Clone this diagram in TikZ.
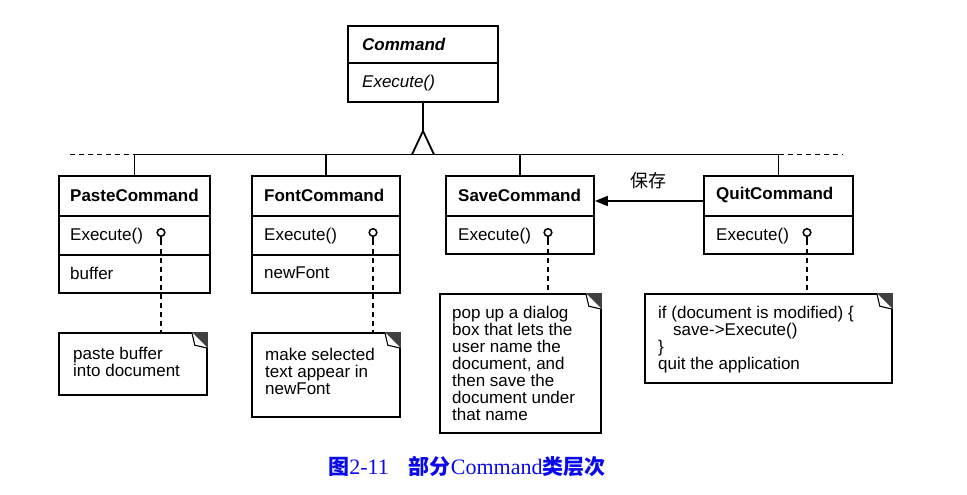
\documentclass[tikz,border=0pt]{standalone}
\usepackage{fontspec}
\setmainfont{Liberation Sans}
\newfontfamily\cjk{Noto Sans CJK SC}
\newfontfamily\capserif{Liberation Serif}
\usetikzlibrary{arrows.meta}
\definecolor{capblue}{RGB}{10,10,235}
\newcommand\dogear[1]{%
  \fill[black!75] ([xshift=-16pt]#1.north east) -- (#1.north east) -- ([yshift=-16pt]#1.north east) -- cycle;
  \draw[line width=1.1pt, fill=white, line join=round] ([xshift=-16pt]#1.north east) -- ([xshift=-13pt,yshift=-13pt]#1.north east) -- ([yshift=-16pt]#1.north east);
}
\newcommand\lolli[2]{%
  \coordinate (#1) at (#2,240);
  \draw[line width=1.5pt] (#2,236.5) -- (#1);
  \draw[line width=1.5pt, fill=white] (#2,232.5) circle[radius=3.8pt];
}
\begin{document}
\begin{tikzpicture}[x=1pt,y=-1pt,
  box/.style={draw, rectangle, inner sep=0, line width=1.8pt},
  ttl/.style={anchor=west, inner sep=0, font=\fontsize{17}{17}\selectfont\bfseries},
  lbl/.style={anchor=west, inner sep=0, font=\fontsize{17}{17}\selectfont},
  note/.style={draw, rectangle, inner sep=0, line width=1.6pt},
  notetext/.style={anchor=north west, inner sep=0, align=left, font=\fontsize{17}{17}\selectfont},
  conn/.style={dash pattern=on 5pt off 4pt, line width=1.6pt},
  solidline/.style={line width=1.8pt}
]
\useasboundingbox (0,0) rectangle (967,495);

% Command
\node[box, minimum width=150, minimum height=76] (cmd) at (423,64) {};
\draw[solidline] (cmd.west |- 0,63) -- (cmd.east |- 0,63);
\node[ttl, font=\fontsize{17}{17}\selectfont\bfseries\itshape] (cmdt) at (362,44) {Command};
\node[lbl, font=\fontsize{17}{17}\selectfont\itshape] (cmde) at (362,83) {Execute()};

% subclasses
\node[box, minimum width=151, minimum height=117] (paste) at (134.5,234.5) {};
\node[box, minimum width=148, minimum height=117] (font) at (326,234.5) {};
\node[box, minimum width=148, minimum height=78] (save) at (520,215) {};
\node[box, minimum width=149, minimum height=78] (quit) at (778.5,215) {};
\foreach \b in {paste,font,save,quit} {\draw[solidline] (\b.west |- 0,216) -- (\b.east |- 0,216);}
\foreach \b in {paste,font} {\draw[solidline] (\b.west |- 0,255) -- (\b.east |- 0,255);}

\node[ttl] (pt) at (70,195) {PasteCommand};
\node[lbl] (pe) at (70,236) {Execute()};
\node[lbl] (pb) at (70,273) {buffer};
\node[ttl] (ft) at (264,195) {FontCommand};
\node[lbl] (fe) at (264,236) {Execute()};
\node[lbl] (fb) at (264,273) {newFont};
\node[ttl] (st) at (458,195) {SaveCommand};
\node[lbl] (se) at (458,236) {Execute()};
\node[ttl] (qt) at (716,195) {QuitCommand};
\node[lbl] (qe) at (716,236) {Execute()};

% inheritance
\coordinate (hbar) at (0,154.5);
\coordinate (apex) at (423,131);
\draw[solidline] (cmd.south) -- (apex);
\draw[solidline, line join=miter] (412,154.5) -- (apex) -- (434,154.5);
\draw[solidline] (paste.north |- hbar) -- (quit.north |- hbar);
\foreach \b in {paste,font,save,quit} {\draw[solidline] (\b.north |- hbar) -- (\b.north);}
\draw[conn, line width=1.4pt] (70,154.5) -- (paste.north |- hbar);
\draw[conn, line width=1.4pt] (quit.north |- hbar) -- (843,154.5);

% association
\draw[solidline, -{Triangle[length=13pt,width=10pt]}] (quit.west |- 0,201) -- (save.east |- 0,201);
\node[font=\cjk\fontsize{18}{18}\selectfont] (lab) at (648,181) {保存};

% notes
\node[note, minimum width=148, minimum height=62] (pn) at (133,364) {};
\node[note, minimum width=148, minimum height=84] (fn) at (326,375) {};
\node[note, minimum width=161, minimum height=139] (sn) at (520.5,363.5) {};
\node[note, minimum width=247, minimum height=89] (qn) at (768.5,338.5) {};
\foreach \n in {pn,fn,sn,qn} {\dogear{\n}}

\node[notetext] (pnt) at (73,347) {paste buffer\\into document};
\node[notetext] (fnt) at (265,348) {make selected\\text appear in\\newFont};
\node[notetext] (snt) at (452,306) {pop up a dialog\\box that lets the\\user name the\\document, and\\then save the\\document under\\that name};
\node[notetext] (qnt) at (658,306) {if (document is modified) \{\\\hspace*{15pt}save->Execute()\\\}\\quit the application};

% lollipops and dashed links
\lolli{pl}{161}
\lolli{fl}{373}
\lolli{sl}{548}
\lolli{ql}{807}
\draw[conn] (pl) -- (pl |- pn.north);
\draw[conn] (fl) -- (fl |- fn.north);
\draw[conn] (sl) -- (sl |- sn.north);
\draw[conn] (ql) -- (ql |- qn.north);

% caption
\node[text=capblue, inner sep=0] (cap) at (467,467) {\cjk\bfseries\fontsize{21}{21}\selectfont 图\capserif\mdseries\fontsize{22}{22}\selectfont 2-11\hspace{20pt}\cjk\bfseries\fontsize{21}{21}\selectfont 部分\capserif\mdseries\fontsize{22}{22}\selectfont Command\cjk\bfseries\fontsize{21}{21}\selectfont 类层次};
\end{tikzpicture}
\end{document}
